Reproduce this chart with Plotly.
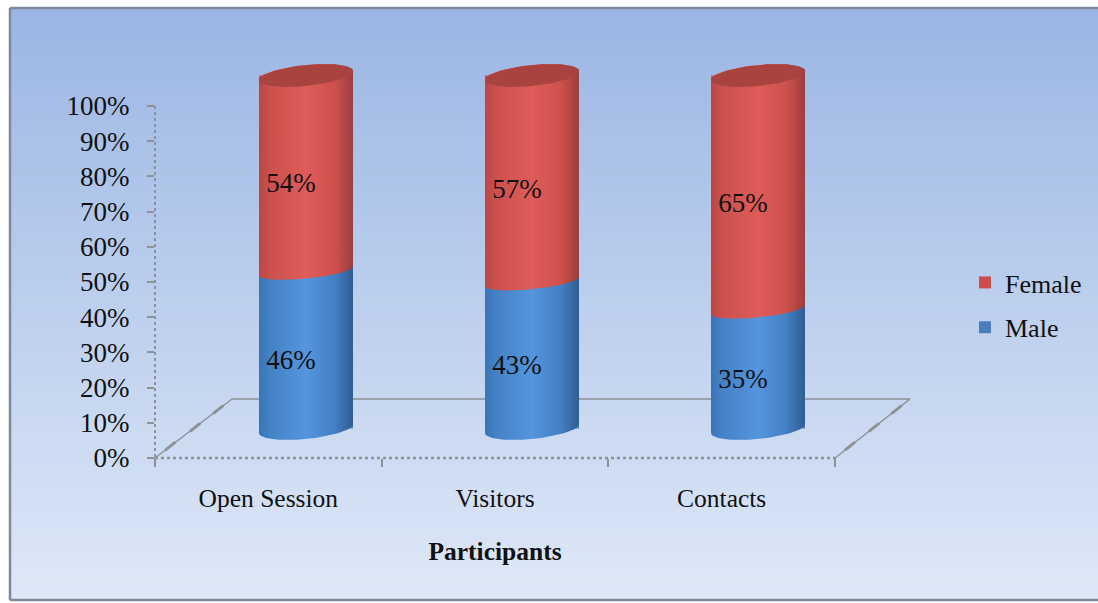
import numpy as np
import plotly.graph_objects as go

categories = ["Open Session", "Visitors", "Contacts"]
male = [46, 43, 35]
female = [54, 57, 65]
y_ticks = list(range(0, 101, 10))
y_tick_labels = [f"{v}%" for v in y_ticks]

W, H = 1098, 603
def px(x): return x / W
def py(y): return 1 - y / H

# cylinder geometry (axis units)
HALF_W = 47 / 226
PX_PER_PCT = 3.53
DROP = 1.4  # seam sits a little below the nominal value in the 3D view
END_B, SEAM_B, SHEAR = 10.5 / PX_PER_PCT, 7.5 / PX_PER_PCT, 4.5 / PX_PER_PCT
t_lo = np.linspace(np.pi, 2 * np.pi, 40)
t_all = np.linspace(0, 2 * np.pi, 80)

def arc(cx, v, b, t):
    return cx + HALF_W * np.cos(t), v + b * np.sin(t) + SHEAR * np.cos(t)

RED = [[0, "#B84845"], [0.12, "#CC504D"], [0.5, "#DE5C59"], [0.8, "#CE514E"], [1, "#9E3D3B"]]
BLUE = [[0, "#3A74B4"], [0.12, "#4482C6"], [0.5, "#5595DD"], [0.8, "#4380C4"], [1, "#2E5D93"]]

fig = go.Figure()

# category axis used for the front floor edge
fig.add_scatter(x=categories, y=[None] * 3, mode="markers", showlegend=False, hoverinfo="skip", xaxis="x", yaxis="y")
# native stacked bars (legend + base marks)
fig.add_bar(x=list(range(3)), y=male, name="Male", marker_color="#4A7EBB", xaxis="x2", yaxis="y2",
            width=2 * HALF_W, legendgroup="m", legendrank=2, marker_line_width=0)
fig.add_bar(x=list(range(3)), y=female, base=male, name="Female", marker_color="#CD4F4B", xaxis="x2", yaxis="y2",
            width=2 * HALF_W, legendgroup="f", legendrank=1, marker_line_width=0)

for i, (m, f) in enumerate(zip(male, female)):
    seam = m - DROP
    # male body
    xa, ya = arc(i, 0, END_B, t_lo)
    xs = np.r_[xa, i + HALF_W, i - HALF_W, xa[0]]
    ys = np.r_[ya, seam + 6, seam + 6, ya[0]]
    fig.add_scatter(x=xs, y=ys, xaxis="x2", yaxis="y2", fill="toself", mode="lines", line_width=0,
                    fillgradient=dict(type="horizontal", colorscale=BLUE), showlegend=False, hoverinfo="skip")
    # female body
    xa, ya = arc(i, seam, SEAM_B, t_lo)
    xt, yt = arc(i, m + f, END_B, np.linspace(0, np.pi, 40))
    fig.add_scatter(x=np.r_[xa, xt, xa[0]], y=np.r_[ya, yt, ya[0]], xaxis="x2", yaxis="y2", fill="toself",
                    mode="lines", line_width=0,
                    fillgradient=dict(type="horizontal", colorscale=RED), showlegend=False, hoverinfo="skip")
    # top cap
    xc, yc = arc(i, m + f, END_B, t_all)
    fig.add_scatter(x=xc, y=yc, xaxis="x2", yaxis="y2", fill="toself", mode="lines", line_width=0,
                    fillcolor="#A8433F", showlegend=False, hoverinfo="skip")

# value labels
LABEL_DX, LABEL_DY = -15 / 226, -4.2
xs = np.arange(3) + LABEL_DX
fig.add_scatter(x=xs, y=[m / 2 + LABEL_DY for m in male], text=[f"{m}%" for m in male], mode="text",
                xaxis="x2", yaxis="y2", textfont=dict(family="Liberation Serif", size=27, color="#111"),
                showlegend=False, hoverinfo="skip")
fig.add_scatter(x=xs, y=[m + f / 2 + LABEL_DY for m, f in zip(male, female)], text=[f"{f}%" for f in female],
                mode="text", xaxis="x2", yaxis="y2",
                textfont=dict(family="Liberation Serif", size=27, color="#111"), showlegend=False, hoverinfo="skip")

# background gradient + frame + floor
shapes = []
n = 70
c0, c1 = np.array([155, 182, 228]), np.array([222, 232, 247])
y0, y1 = 8, 600
for k in range(n):
    c = c0 + (c1 - c0) * k / (n - 1)
    a = y0 + (y1 - y0) * k / n
    shapes.append(dict(type="rect", xref="paper", yref="paper", x0=px(10), x1=1, y0=py(a), y1=py(y1),
                       fillcolor=f"rgb({c[0]:.0f},{c[1]:.0f},{c[2]:.0f})", line_width=0, layer="below"))
GRAY = "#8E9296"
def seg(xa, ya, xb, yb, w=1.5, dash="solid", color=GRAY):
    return dict(type="line", xref="paper", yref="paper", x0=px(xa), y0=py(ya), x1=px(xb), y1=py(yb),
                line=dict(color=color, width=w, dash=dash), layer="below")
shapes += [seg(10, 8, 1098, 8, 2.5, color="#7E8A99"), seg(10, 8, 10, 600, 2.5, color="#7E8A99"),
           seg(10, 600, 1098, 600, 2.5, color="#7E8A99")]
shapes += [seg(155, 106, 155, 458, 2, "dot"), seg(155, 458, 835, 458, 2.5, "dot"),
           seg(155, 458, 232, 399), seg(232, 399, 910, 399), seg(835, 458, 910, 399),
           seg(155, 458, 155, 466, 2), seg(835, 458, 835, 466, 2)]
for (xa, xb) in [(155, 232), (835, 910)]:
    for t in (0.2, 0.52, 0.82):
        mx, my = xa + (xb - xa) * t, 458 - 59 * t
        shapes.append(seg(mx - 5, my + 4, mx + 5, my - 4, 3))

fig.update_layout(
    width=W, height=H, margin=dict(l=0, r=0, t=0, b=0, autoexpand=False), paper_bgcolor="white",
    plot_bgcolor="rgba(0,0,0,0)",
    barmode="overlay", shapes=shapes, font=dict(family="Liberation Serif", color="#111", size=22),
    legend=dict(x=px(965), y=py(259), xanchor="left", yanchor="top", bgcolor="rgba(0,0,0,0)",
                font=dict(size=26, family="Liberation Serif"), traceorder="grouped", tracegroupgap=8,
                itemwidth=30),
    xaxis=dict(domain=[px(155), px(835)], type="category", categoryorder="array", categoryarray=categories,
               range=[-0.5, 2.5], tickson="boundaries", ticks="outside", ticklen=8, tickcolor=GRAY, tickwidth=2,
               showgrid=False, zeroline=False, showline=False, anchor="y", automargin=False,
               tickfont=dict(size=25.5), ticklabelstandoff=22,
               title=dict(text="<b>Participants</b>", font=dict(size=25.5), standoff=30)),
    yaxis=dict(domain=[py(458), py(106)], range=[0, 100], tickmode="array", tickvals=y_ticks, ticktext=y_tick_labels,
               ticks="outside", automargin=False,
               ticklen=7, tickcolor=GRAY, tickwidth=2, showgrid=False, zeroline=False, showline=False,
               tickfont=dict(size=27), ticklabelstandoff=12, anchor="x"),
    xaxis2=dict(domain=[px(193), px(871)], range=[-0.5, 2.5], anchor="y2", visible=False),
    yaxis2=dict(domain=[py(590), py(18)],
                range=[(428.5 - 590) / PX_PER_PCT, (428.5 - 18) / PX_PER_PCT], anchor="x2",
                visible=False),
)
fig.write_html("out.html", config={"displayModeBar": False}, post_script="document.body.style.margin='0';")
